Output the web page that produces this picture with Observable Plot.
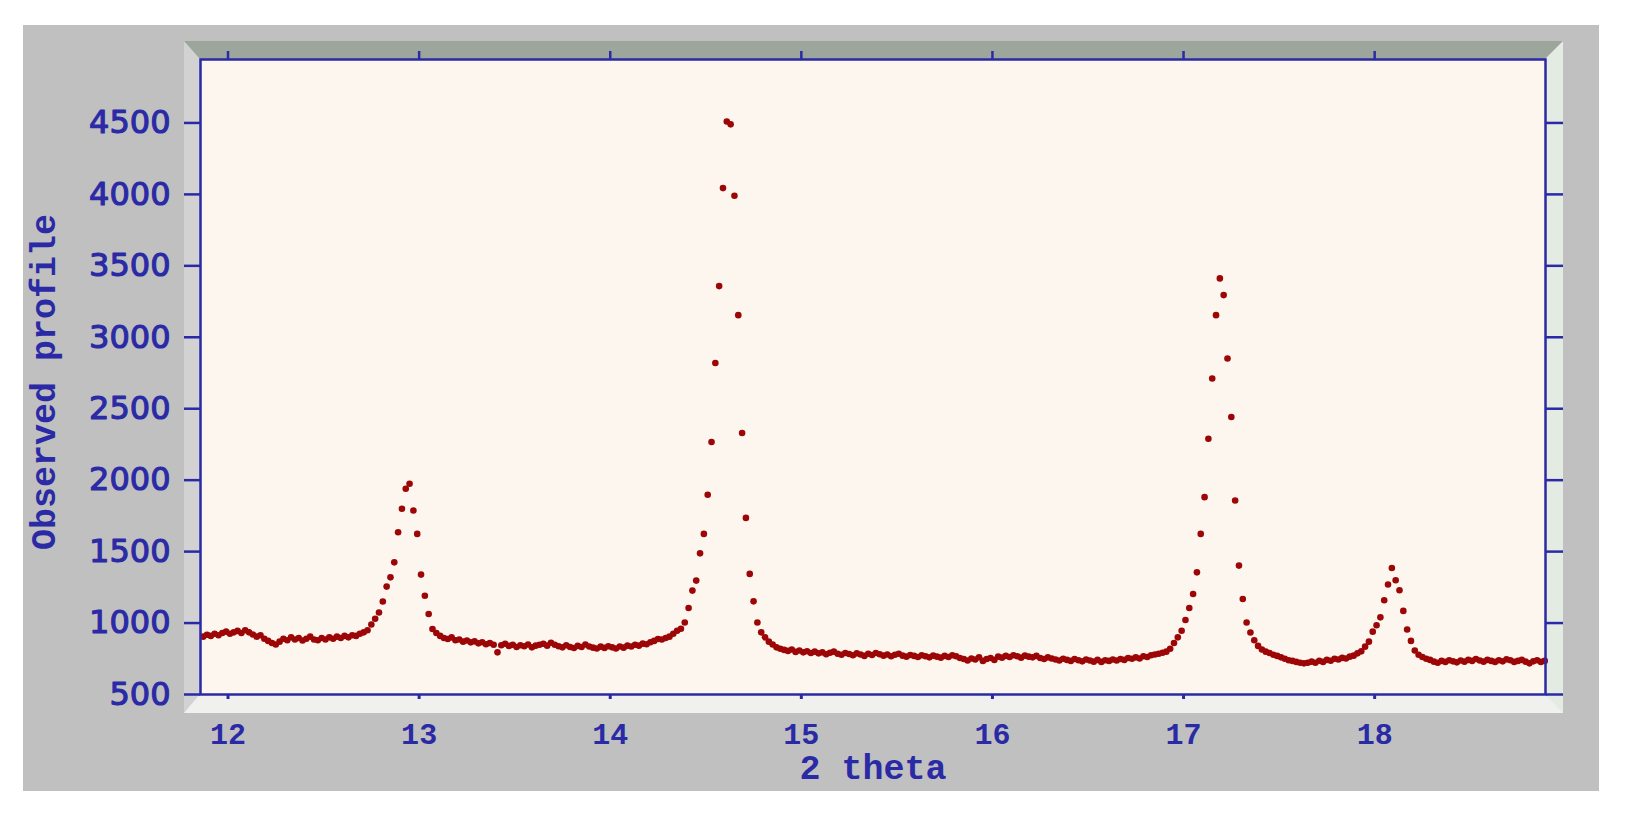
<!DOCTYPE html>
<html><head><meta charset="utf-8">
<script src="https://cdn.jsdelivr.net/npm/d3@7"></script>
<script src="https://cdn.jsdelivr.net/npm/@observablehq/plot@0.6"></script>
<style>
html,body{margin:0;padding:0;background:#fff;}
#wrap{position:relative;width:1628px;height:820px;overflow:hidden;}
#outer{position:absolute;left:23px;top:25px;width:1576px;height:766px;background:#c0c0c0;}
#bevel{position:absolute;left:184px;top:41px;width:1345px;height:635px;border-style:solid;border-width:18px 18px 19px 16px;border-color:#9da69d #e3ebe3 #f0f0ee #d2d2d2;}
#chart{position:absolute;left:0;top:0;}
</style></head><body>
<div id="wrap"><div id="outer"></div><div id="bevel"></div><div id="chart"></div></div>
<script>
const twoTheta = [
11.87,11.89,11.91,11.93,11.95,11.97,11.99,12.01,12.03,12.05,
12.07,12.09,12.11,12.13,12.15,12.17,12.19,12.21,12.23,12.25,
12.27,12.29,12.31,12.33,12.35,12.37,12.39,12.41,12.43,12.45,
12.47,12.49,12.51,12.53,12.55,12.57,12.59,12.61,12.63,12.65,
12.67,12.69,12.71,12.73,12.75,12.77,12.79,12.81,12.83,12.85,
12.87,12.89,12.91,12.93,12.95,12.97,12.99,13.01,13.03,13.05,
13.07,13.09,13.11,13.13,13.15,13.17,13.19,13.21,13.23,13.25,
13.27,13.29,13.31,13.33,13.35,13.37,13.39,13.41,13.43,13.45,
13.47,13.49,13.51,13.53,13.55,13.57,13.59,13.61,13.63,13.65,
13.67,13.69,13.71,13.73,13.75,13.77,13.79,13.81,13.83,13.85,
13.87,13.89,13.91,13.93,13.95,13.97,13.99,14.01,14.03,14.05,
14.07,14.09,14.11,14.13,14.15,14.17,14.19,14.21,14.23,14.25,
14.27,14.29,14.31,14.33,14.35,14.37,14.39,14.41,14.43,14.45,
14.47,14.49,14.51,14.53,14.55,14.57,14.59,14.61,14.63,14.65,
14.67,14.69,14.71,14.73,14.75,14.77,14.79,14.81,14.83,14.85,
14.87,14.89,14.91,14.93,14.95,14.97,14.99,15.01,15.03,15.05,
15.07,15.09,15.11,15.13,15.15,15.17,15.19,15.21,15.23,15.25,
15.27,15.29,15.31,15.33,15.35,15.37,15.39,15.41,15.43,15.45,
15.47,15.49,15.51,15.53,15.55,15.57,15.59,15.61,15.63,15.65,
15.67,15.69,15.71,15.73,15.75,15.77,15.79,15.81,15.83,15.85,
15.87,15.89,15.91,15.93,15.95,15.97,15.99,16.01,16.03,16.05,
16.07,16.09,16.11,16.13,16.15,16.17,16.19,16.21,16.23,16.25,
16.27,16.29,16.31,16.33,16.35,16.37,16.39,16.41,16.43,16.45,
16.47,16.49,16.51,16.53,16.55,16.57,16.59,16.61,16.63,16.65,
16.67,16.69,16.71,16.73,16.75,16.77,16.79,16.81,16.83,16.85,
16.87,16.89,16.91,16.93,16.95,16.97,16.99,17.01,17.03,17.05,
17.07,17.09,17.11,17.13,17.15,17.17,17.19,17.21,17.23,17.25,
17.27,17.29,17.31,17.33,17.35,17.37,17.39,17.41,17.43,17.45,
17.47,17.49,17.51,17.53,17.55,17.57,17.59,17.61,17.63,17.65,
17.67,17.69,17.71,17.73,17.75,17.77,17.79,17.81,17.83,17.85,
17.87,17.89,17.91,17.93,17.95,17.97,17.99,18.01,18.03,18.05,
18.07,18.09,18.11,18.13,18.15,18.17,18.19,18.21,18.23,18.25,
18.27,18.29,18.31,18.33,18.35,18.37,18.39,18.41,18.43,18.45,
18.47,18.49,18.51,18.53,18.55,18.57,18.59,18.61,18.63,18.65,
18.67,18.69,18.71,18.73,18.75,18.77,18.79,18.81,18.83,18.85,
18.87,18.89
];
const observed = [
905,918,910,925,915,930,940,925,935,945,
930,950,935,920,905,915,890,875,860,850,
870,890,880,900,885,895,878,890,905,885,
880,895,885,900,890,905,895,910,900,915,
910,925,935,950,990,1030,1074,1151,1255,1320,
1425,1635,1800,1940,1975,1788,1624,1339,1191,1063,
958,930,910,895,888,900,880,885,870,878,
865,872,858,866,852,860,848,795,845,855,
840,848,832,845,838,850,830,842,848,855,
842,862,848,838,830,845,832,825,840,832,
850,836,828,822,835,826,838,830,822,836,
828,842,836,848,842,856,852,866,875,888,
885,895,905,925,946,960,1004,1105,1227,1297,
1488,1624,1898,2267,2820,3358,4044,4510,4490,3990,
3155,2330,1736,1344,1152,1004,935,900,870,850,
830,820,812,805,815,798,808,795,803,790,
800,788,795,782,792,800,785,778,790,783,
775,788,780,770,785,776,790,782,772,780,
768,778,785,772,765,776,770,762,775,768,
760,772,765,758,770,762,775,768,755,748,
738,752,745,760,735,748,755,742,765,758,
770,762,775,768,758,772,765,760,770,755,
748,760,752,745,738,750,742,735,748,740,
732,745,738,730,742,728,740,735,745,738,
748,742,755,750,760,752,768,762,775,780,
785,792,800,820,860,900,946,1021,1105,1203,
1355,1624,1881,2290,2711,3155,3412,3295,2851,2442,
1858,1402,1168,1004,934,880,840,815,800,790,
778,770,760,750,740,735,728,722,718,722,
730,722,736,728,742,736,750,745,756,752,
765,772,788,802,835,870,940,985,1040,1160,
1270,1385,1300,1230,1085,955,875,808,778,762,
750,742,730,722,735,728,740,732,725,738,
730,742,735,748,738,730,742,735,728,740,
732,746,740,728,735,742,730,718,732,740,
728,735
];
const xTicks = [12, 13, 14, 15, 16, 17, 18];
const yTicks = [500, 1000, 1500, 2000, 2500, 3000, 3500, 4000, 4500];
const xTitle = "2 theta";
const yTitle = "Observed profile";

const data = twoTheta.map((t, i) => ({twoTheta: t, observed: observed[i]}));
const blue = "#2a2aa6";
const monoFont = "'Liberation Mono', 'DejaVu Sans Mono', monospace";
const sansFont = "'DejaVu Sans', sans-serif";

const chart = Plot.plot({
  width: 1628,
  height: 820,
  marginLeft: 200,
  marginRight: 83,
  marginTop: 59,
  marginBottom: 126,
  style: {background: "transparent", color: blue, overflow: "visible"},
  x: {domain: [11.856, 18.894], label: null},
  y: {domain: [500, 4944], label: null},
  marks: [
    Plot.frame({fill: "#fdf6ef", stroke: null}),
    Plot.dot(data, {x: "twoTheta", y: "observed", r: 3.3, fill: "#9c0606", stroke: null}),
    Plot.frame({stroke: blue, strokeWidth: 2.5}),
    Plot.axisY({ticks: yTicks, tickSize: 16, tickPadding: 14, strokeWidth: 2.5, fontSize: 32, fontFamily: sansFont, textStroke: blue, textStrokeWidth: 1.1, label: null, tickFormat: d => String(d)}),
    Plot.axisY({anchor: "right", ticks: yTicks, tickSize: 17, strokeWidth: 2.5, tickFormat: () => "", label: null}),
    Plot.axisX({ticks: xTicks, tickSize: 5, tickPadding: 23, strokeWidth: 3, fontSize: 30, fontWeight: "bold", fontFamily: monoFont, label: null, tickFormat: d => String(d)}),
    Plot.axisX({anchor: "top", ticks: xTicks, tickSize: 9, strokeWidth: 2.5, tickFormat: () => "", label: null}),
    Plot.text([xTitle], {frameAnchor: "bottom", dy: 73, text: d => d, fontSize: 35, fontWeight: "bold", fontFamily: monoFont, fill: blue, textAnchor: "middle", lineAnchor: "middle"}),
    Plot.text([yTitle], {frameAnchor: "left", dx: -157, dy: 5, rotate: -90, text: d => d, fontSize: 35, fontWeight: "bold", fontFamily: monoFont, fill: blue, textAnchor: "middle", lineAnchor: "middle"})
  ]
});
document.getElementById("chart").append(chart);
</script>
</body></html>
